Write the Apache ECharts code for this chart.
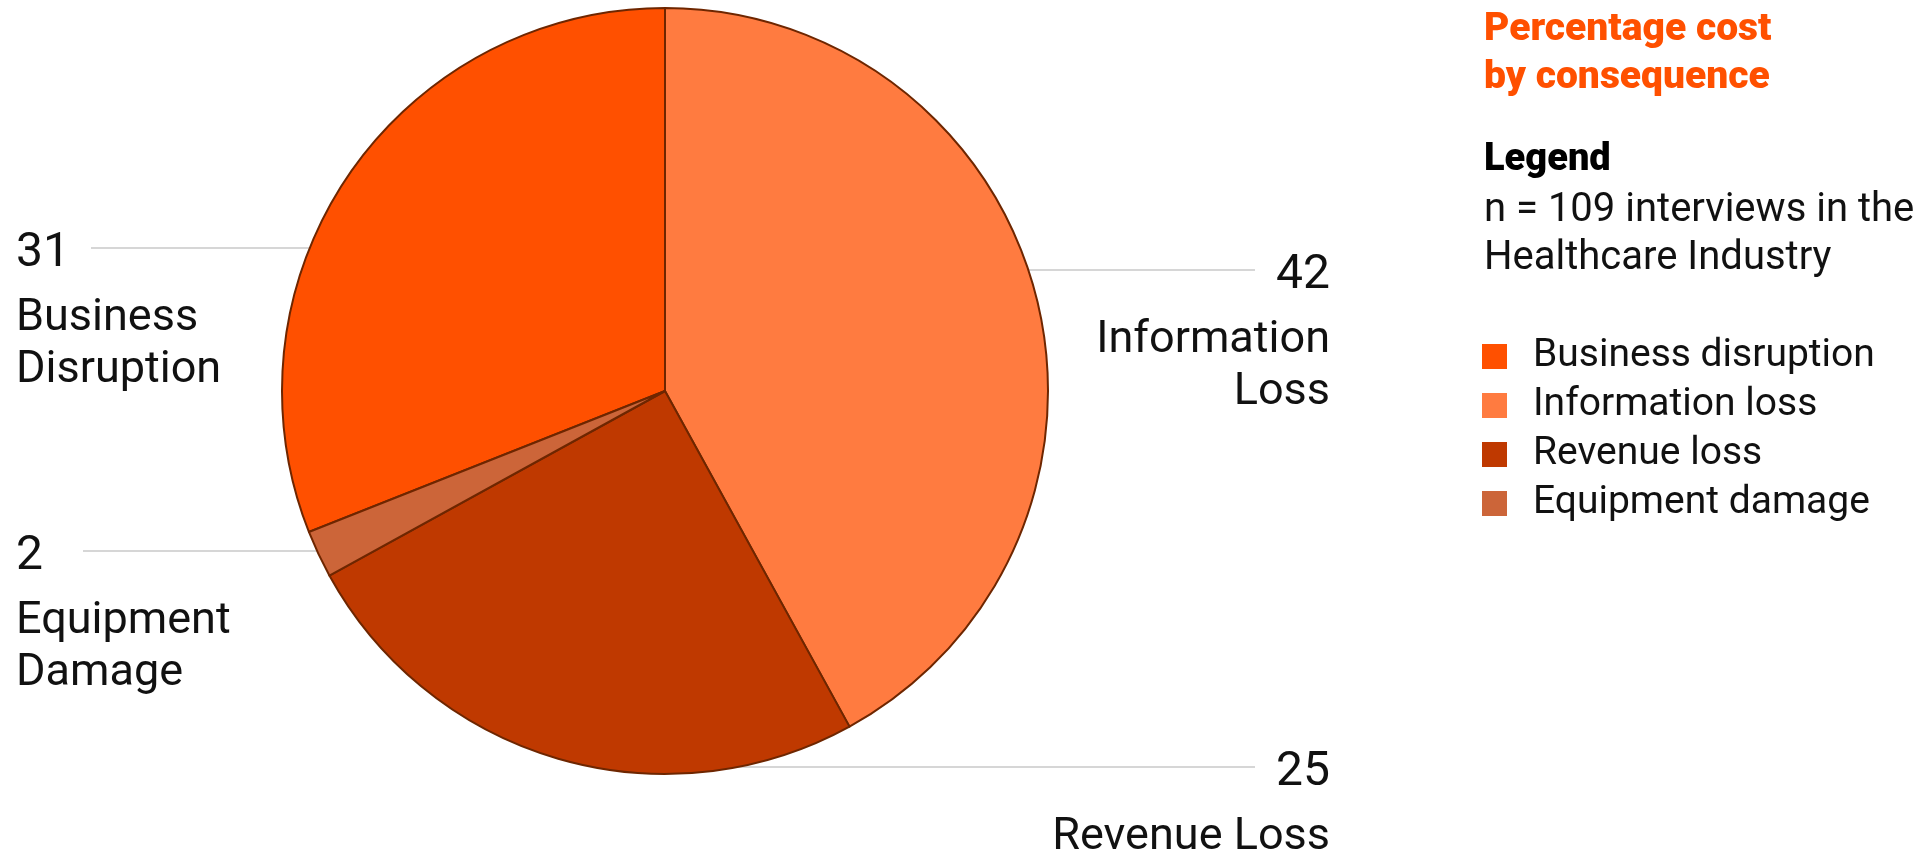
<!DOCTYPE html>
<html><head><meta charset="utf-8">
<script src="https://cdn.jsdelivr.net/npm/echarts@6/dist/echarts.min.js"></script>
<style>html,body{margin:0;padding:0;background:#fff}#c{width:1918px;height:854px}</style>
</head><body><div id="c"></div>
<script>
// ---- data ----
const categories = ['Business disruption', 'Information loss', 'Revenue loss', 'Equipment damage'];
const values = [31, 42, 25, 2];
const labelNames = ['Business\nDisruption', 'Information\nLoss', 'Revenue Loss', 'Equipment\nDamage'];
const colors = ['#FF5000', '#FF7B40', '#BF3900', '#CC6539'];

// ---- layout / style ----
const FONT = 'Roboto, "Noto Sans", sans-serif';
const CX = 665, CY = 391, R = 383;
const total = values.reduce((a, b) => a + b, 0);
const anchors = [
  { lineY: 248, side: 'left',  textX: 16,   endX: 91 },
  { lineY: 270, side: 'right', textX: 1330, endX: 1255 },
  { lineY: 767, side: 'right', textX: 1330, endX: 1255 },
  { lineY: 551, side: 'left',  textX: 16,   endX: 83 }
];
const V_LH = 77;

const chart = echarts.init(document.getElementById('c'), null, { renderer: 'canvas' });
const option = {
  animation: false,
  backgroundColor: '#fff',
  title: [
    { text: 'Percentage cost\nby consequence', left: 1484, top: 6, padding: 0,
      textStyle: { color: '#FF5000', fontSize: 39, fontWeight: 900, lineHeight: 48, fontFamily: FONT } },
    { text: 'Legend', subtext: 'n = 109 interviews in the\nHealthcare Industry', left: 1484, top: 140, padding: 0, itemGap: 7,
      textStyle: { color: '#000', fontSize: 38, fontWeight: 900, lineHeight: 40, fontFamily: FONT },
      subtextStyle: { color: '#111', fontSize: 40, lineHeight: 48, fontFamily: FONT } }
  ],
  legend: {
    orient: 'vertical', left: 1482, top: 337, padding: 0,
    itemWidth: 25, itemHeight: 25, itemGap: 10, icon: 'rect',
    data: categories, selectedMode: false,
    itemStyle: { borderWidth: 0 },
    textStyle: { fontSize: 39, lineHeight: 25, color: '#111', fontFamily: FONT, padding: [0, 0, 0, 21] }
  },
  series: [{
    type: 'pie',
    center: [CX, CY],
    radius: R,
    startAngle: 90 + values[0] / total * 360,
    clockwise: true,
    avoidLabelOverlap: false,
    emphasis: { disabled: true },
    itemStyle: { borderColor: '#6e2600', borderWidth: 2 },
    label: {
      show: true, position: 'outer', color: '#111', fontFamily: FONT,
      formatter: p => '{v|' + p.value + '}\n{n|' + labelNames[p.dataIndex].split('\n').join('}\n{n|') + '}',
      rich: {
        v: { fontSize: 48, lineHeight: V_LH, fontFamily: FONT, color: '#111' },
        n: { fontSize: 45, lineHeight: 52, fontFamily: FONT, color: '#111' }
      }
    },
    labelLine: { show: true, smooth: false, lineStyle: { color: '#c8c8c8', width: 1.5 } },
    labelLayout: function (p) {
      const a = anchors[p.dataIndex];
      const dy = a.lineY - CY;
      const dx = Math.sqrt(R * R - dy * dy);
      const px = a.side === 'left' ? CX - dx : CX + dx;
      return {
        x: a.textX, y: a.lineY + 6 - V_LH / 2,
        align: a.side, verticalAlign: 'top',
        labelLinePoints: [[px, a.lineY], [(px + a.endX) / 2, a.lineY], [a.endX, a.lineY]]
      };
    },
    data: categories.map((c, i) => ({
      name: c, value: values[i],
      itemStyle: { color: colors[i] }
    }))
  }]
};
chart.setOption(option);
</script>
</body></html>
